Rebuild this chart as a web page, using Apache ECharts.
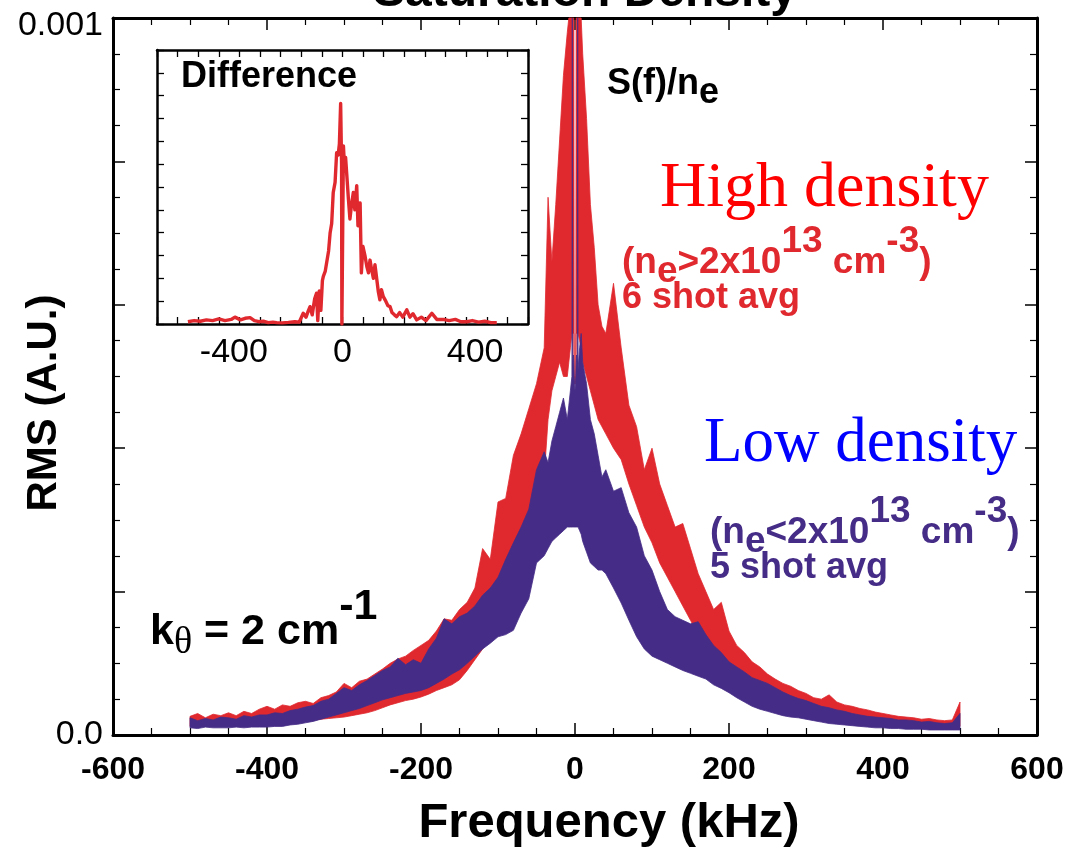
<!DOCTYPE html>
<html><head><meta charset="utf-8">
<script src="https://cdn.jsdelivr.net/npm/echarts@6/dist/echarts.min.js"></script>
<style>html,body{margin:0;padding:0;background:#fff}#c{width:1072px;height:848px}</style>
</head><body><div id="c"></div>
<script>
// ---------- DATA (RMS in units of 1e-4 A.U., frequency in kHz) ----------
const freqKHz = [
-500,-490,-480,-470,-460,-450,-440,-430,-420,-410,
-400,-390,-380,-370,-360,-350,-340,-330,-320,-310,
-300,-290,-280,-270,-260,-250,-240,-230,-220,-210,
-200,-190,-180,-170,-160,-150,-140,-130,-120,-110,
-100,-90,-80,-70,-60,-50,-40,
-35,-30,-25,-20,-15,-10,-8,-6,-4,-3.5,
-3,-2,-1.5,-1,0,1,1.5,2,3,3.5,
4,6,8,10,15,20,25,30,35,
40,50,60,70,80,90,100,110,120,130,
140,150,160,170,180,190,200,210,220,230,
240,250,260,270,280,290,300,310,320,330,
340,350,360,370,380,390,400,410,420,430,
440,450,460,470,480,490,500
];
// High density (6 shot avg): upper / lower envelope of the noisy spectrum
const highUpper = [
0.26,0.30,0.24,0.29,0.27,0.31,0.27,0.33,0.30,0.36,
0.40,0.36,0.42,0.40,0.45,0.47,0.44,0.52,0.55,0.60,
0.72,0.66,0.75,0.78,0.85,0.92,1.00,1.06,1.10,1.18,
1.25,1.32,1.45,1.62,1.60,1.75,1.85,2.05,2.60,2.45,
3.25,3.30,3.90,4.20,4.55,4.90,5.40,
7.50,6.60,7.40,8.30,9.20,9.80,10.3,10.8,11,11,
11,11,11,5.0,5.0,5.0,11,11,11,11,
11,10.5,10.0,9.5,8.6,7.4,6.8,6.0,5.7,
5.6,6.3,5.4,4.6,4.3,3.7,4.0,3.5,3.2,2.9,
2.95,2.6,2.25,2.0,1.75,1.85,1.45,1.25,1.15,1.02,
0.95,0.85,0.78,0.72,0.68,0.62,0.58,0.52,0.50,0.56,
0.46,0.42,0.40,0.37,0.35,0.32,0.30,0.28,0.26,0.25,
0.24,0.22,0.23,0.21,0.20,0.21,0.46
];
const highLower = [
0.12,0.13,0.12,0.14,0.13,0.14,0.15,0.15,0.16,0.16,
0.16,0.17,0.17,0.18,0.19,0.20,0.21,0.22,0.23,0.24,
0.25,0.27,0.29,0.31,0.34,0.38,0.42,0.45,0.48,0.50,
0.53,0.57,0.62,0.66,0.70,0.77,0.90,1.05,1.20,1.35,
1.50,1.75,2.00,2.30,2.60,3.00,3.60,
4.40,4.80,5.00,5.20,5.00,5.00,5.20,5.40,5.60,5.60,
5.60,5.60,5.60,4.90,4.90,4.90,5.60,5.60,5.60,5.60,
5.60,5.50,5.40,5.20,5.00,4.80,4.60,4.40,4.30,
4.20,4.00,3.84,3.50,3.20,2.90,2.68,2.40,2.20,2.00,
1.80,1.60,1.40,1.30,1.10,1.00,0.90,0.80,0.70,0.62,
0.55,0.45,0.39,0.36,0.34,0.32,0.30,0.28,0.26,0.25,
0.23,0.22,0.21,0.20,0.18,0.17,0.16,0.15,0.14,0.14,
0.13,0.13,0.12,0.12,0.12,0.12,0.12
];
// Low density (5 shot avg)
const lowUpper = [
0.24,0.20,0.23,0.21,0.25,0.24,0.22,0.27,0.25,0.28,
0.28,0.31,0.30,0.34,0.36,0.39,0.41,0.47,0.50,0.58,
0.66,0.62,0.70,0.76,0.83,0.90,0.95,1.07,0.98,1.05,
1.00,1.20,1.35,1.62,1.55,1.65,1.70,1.80,1.95,2.05,
2.20,2.45,2.68,2.90,3.15,3.70,3.95,
3.80,4.10,4.30,4.50,4.70,4.40,4.60,4.80,5.00,11,
5.20,5.30,5.20,5.00,4.80,5.00,5.20,5.30,5.20,11,
5.10,5.40,5.60,5.20,4.90,4.40,4.20,3.90,3.60,
3.70,3.40,3.45,3.10,2.90,2.50,2.30,2.00,1.75,1.65,
1.60,1.55,1.58,1.40,1.25,1.15,1.02,0.95,0.88,0.80,
0.76,0.72,0.66,0.60,0.55,0.51,0.48,0.44,0.40,0.38,
0.35,0.33,0.30,0.28,0.26,0.25,0.24,0.23,0.21,0.21,
0.20,0.18,0.19,0.17,0.16,0.17,0.30
];
const lowLower = [
0.10,0.09,0.11,0.10,0.10,0.10,0.11,0.10,0.11,0.11,
0.11,0.12,0.12,0.14,0.15,0.17,0.19,0.22,0.25,0.28,
0.31,0.34,0.37,0.41,0.45,0.49,0.52,0.55,0.58,0.60,
0.62,0.66,0.72,0.78,0.85,0.91,1.00,1.10,1.20,1.28,
1.37,1.40,1.46,1.70,1.90,2.40,2.50,
2.60,2.70,2.75,2.80,2.85,2.90,2.90,2.90,2.90,2.90,
2.90,2.90,2.90,2.90,2.90,2.90,2.90,2.90,2.90,2.90,
2.90,2.85,2.80,2.70,2.55,2.40,2.35,2.30,2.30,
2.25,2.05,1.84,1.60,1.37,1.20,1.10,1.05,1.00,0.95,
0.90,0.86,0.82,0.78,0.70,0.65,0.59,0.52,0.46,0.40,
0.36,0.33,0.30,0.27,0.25,0.24,0.22,0.20,0.18,0.16,
0.15,0.14,0.13,0.12,0.11,0.10,0.10,0.09,0.09,0.08,
0.08,0.08,0.07,0.07,0.07,0.07,0.07
];
// Inset: difference (arbitrary units, 0..12)
const diffFreqKHz = [
-500,-480,-460,-440,-420,-400,-380,-360,-348,-330,
-315,-299,-285,-270,-256,-240,-225,-213,-195,-175,
-154,-140,-127,-118,-110,-105,-98,-90,-84,-80,
-75,-70,-65,-62,-56,-51,-45,-40,-35,-30,
-24,-19,-14,-10,-6,-3,-2,2,3,6,
10,14,19,24,29,35,40,46,50,54,
57,61,66,73,79,84,89,94,100,105,
111,116,121,126,132,140,147,154,160,168,
175,185,195,208,218,228,240,255,270,289,
305,326,345,365,383,402,420,440,460,480,
499
];
const diffValues = [
0.10,0.15,0.12,0.18,0.15,0.22,0.15,0.20,0.30,0.18,
0.25,0.28,0.15,0.10,0.12,0.06,0.08,0.06,0.05,0.07,
0.10,0.08,0.47,0.30,0.60,0.76,0.40,1.10,1.35,0.15,
1.45,0.60,1.90,2.09,2.30,2.24,3.20,4.00,4.40,5.76,
6.20,7.50,7.40,7.90,9.66,7.00,0.00,0.00,7.80,7.00,
7.30,6.50,5.50,4.60,5.20,5.76,5.00,6.06,4.30,5.00,
5.30,2.24,3.40,2.97,2.50,2.24,2.80,2.40,2.00,2.60,
2.53,1.40,1.06,1.50,1.20,1.00,0.80,0.76,0.50,0.40,
0.32,0.50,0.30,0.62,0.30,0.45,0.18,0.30,0.15,0.47,
0.20,0.20,0.15,0.20,0.10,0.10,0.15,0.08,0.12,0.06,
0.06
];
const xTickLabels = {'-600':'-600','-400':'-400','-200':'-200','0':'0','200':'200','400':'400','600':'600'};
const yTickLabels = {'0':'0.0','10':'0.001'};
const insetXTickLabels = {'-400':'-400','0':'0','400':'400'};

// ---------- CHART ----------
const RED = '#e0282f', PURPLE = '#452c86';
const FONT = '"Liberation Sans", Arial, Helvetica, sans-serif';
const SERIF = '"Liberation Serif", "Times New Roman", serif';
const pairs = (xs, ys) => xs.map((x, i) => [x, ys[i]]);

// band polygon (upper envelope forward, lower envelope backward), mapped through the axes
function bandRender(upper, lower, color) {
  return function (params, api) {
    const pts = [];
    for (let i = 0; i < freqKHz.length; i++) pts.push(api.coord([freqKHz[i], upper[i]]));
    for (let i = freqKHz.length - 1; i >= 0; i--) pts.push(api.coord([freqKHz[i], lower[i]]));
    const cs = params.coordSys;
    const clipped = echarts.graphic.clipPointsByRect(pts, { x: cs.x, y: cs.y, width: cs.width, height: cs.height });
    return { type: 'polygon', shape: { points: clipped },
      style: { fill: color, stroke: color, lineWidth: 0.8 } };
  };
}

const mctx = document.createElement('canvas').getContext('2d');
function richLine(x0, baseline, parts, color) {
  let x = x0; const els = [];
  for (const p of parts) {
    const [t, font, dy, size] = p;
    mctx.font = font;
    const w = mctx.measureText(t).width;
    els.push({ type: 'text', x: x, y: baseline + dy - 0.36 * size, z: 100,
      style: { text: t, font: font, fill: color, align: 'left', verticalAlign: 'middle' } });
    x += w;
  }
  return els;
}
const B = s => 'bold ' + s + 'px ' + FONT;

const chart = echarts.init(document.getElementById('c'));

const mainTick = { show: true, inside: true, length: 12, lineStyle: { color: '#000', width: 1.5 } };
const mainMinor = { show: true, splitNumber: 4, length: 7, lineStyle: { color: '#000', width: 1.2 } };
const mainLine = { show: true, onZero: false, lineStyle: { color: '#000', width: 3 } };
const insTick = { show: true, inside: true, length: 7, lineStyle: { color: '#000', width: 1.3 } };
const insLine = { show: true, onZero: false, lineStyle: { color: '#000', width: 2.5 } };

const graphics = [];
graphics.push({ type: 'text', x: 585, y: 10 - 0.36 * 48, style: { text: 'Saturation Density', font: B(48), fill: '#000', align: 'center', verticalAlign: 'middle' } });
graphics.push({ type: 'text', x: 609, y: 841 - 0.36 * 49, style: { text: 'Frequency (kHz)', font: B(49), fill: '#000', align: 'center', verticalAlign: 'middle' } });
graphics.push({ type: 'text', x: 44, y: 403, rotation: Math.PI / 2, style: { text: 'RMS (A.U.)', font: B(42), fill: '#000', align: 'center', verticalAlign: 'middle' } });
graphics.push(...richLine(181, 90, [['Difference', B(36), 0, 36]], '#000'));
graphics.push(...richLine(607, 97, [['S(f)/n', B(36), 0, 36], ['e', B(36), 9, 36]], '#000'));
graphics.push(...richLine(660, 212, [['High density', '64px ' + SERIF, 0, 64]], '#ff0000'));
graphics.push(...richLine(622, 276, [['(n', B(37), 0, 37], ['e', B(37), 9, 37], ['>2x10', B(37), 0, 37], ['13', B(37), -21, 37], [' cm', B(37), 0, 37], ['-3', B(37), -21, 37], [')', B(37), 0, 37]], RED));
graphics.push(...richLine(622, 311, [['6 shot avg', B(36), 0, 36]], RED));
graphics.push(...richLine(704, 467, [['Low density', '63px ' + SERIF, 0, 63]], '#0000ff'));
graphics.push(...richLine(710, 546, [['(n', B(37), 0, 37], ['e', B(37), 9, 37], ['<2x10', B(37), 0, 37], ['13', B(37), -21, 37], [' cm', B(37), 0, 37], ['-3', B(37), -21, 37], [')', B(37), 0, 37]], PURPLE));
graphics.push(...richLine(710, 581, [['5 shot avg', B(36), 0, 36]], PURPLE));
graphics.push(...richLine(150, 648, [['k', B(43), 0, 43], ['\u03b8', '38px ' + SERIF, 9, 38], [' = 2 cm', B(43), 0, 43], ['-1', B(43), -25, 43]], '#000'));

const insetLabelRich = {
  a: { fontFamily: FONT, fontSize: 34, color: '#000', padding: [0, 0, 0, 30] },
  b: { fontFamily: FONT, fontSize: 34, color: '#000', padding: [0, 0, 0, 18] }
};

const option = {
  backgroundColor: '#fff',
  animation: false,
  grid: [
    { left: 113, top: 18, width: 924, height: 717, containLabel: false },
    { left: 157, top: 50, width: 371, height: 274, containLabel: false, show: true, backgroundColor: '#fff', borderWidth: 0 }
  ],
  xAxis: [
    { gridIndex: 0, type: 'value', position: 'bottom', min: -600, max: 600, interval: 200,
      axisLine: mainLine, axisTick: mainTick, minorTick: mainMinor, splitLine: { show: false },
      axisLabel: { fontFamily: FONT, fontWeight: 'bold', fontSize: 32, color: '#000', margin: 19,
        formatter: v => xTickLabels[String(v)] || '' } },
    { gridIndex: 0, type: 'value', position: 'top', min: -600, max: 600, interval: 200,
      axisLine: mainLine, axisTick: mainTick, minorTick: mainMinor, splitLine: { show: false }, axisLabel: { show: false } },
    { gridIndex: 1, type: 'value', position: 'bottom', min: -600, max: 600, interval: 200,
      axisLine: insLine, axisTick: insTick, minorTick: { show: true, splitNumber: 3, length: 7, lineStyle: { color: '#000', width: 1.3 } },
      splitLine: { show: false },
      axisLabel: { fontFamily: FONT, fontSize: 34, color: '#000', margin: 12, rich: insetLabelRich,
        formatter: v => { const t = insetXTickLabels[String(v)]; if (!t) return ''; return v < 0 ? '{a|' + t + '}' : (v > 0 ? '{b|' + t + '}' : t); } } },
    { gridIndex: 1, type: 'value', position: 'top', min: -600, max: 600, interval: 200,
      axisLine: insLine, axisTick: insTick, minorTick: { show: true, splitNumber: 3, length: 7, lineStyle: { color: '#000', width: 1.3 } },
      splitLine: { show: false }, axisLabel: { show: false } }
  ],
  yAxis: [
    { gridIndex: 0, type: 'value', position: 'left', min: 0, max: 10, interval: 2,
      axisLine: mainLine, axisTick: mainTick, minorTick: mainMinor, splitLine: { show: false },
      axisLabel: { fontFamily: FONT, fontSize: 34, color: '#000', margin: 10,
        formatter: v => { const t = yTickLabels[String(v)]; return t ? (v === 10 ? '{top|' + t + '}' : t) : ''; },
        rich: { top: { fontFamily: FONT, fontSize: 34, color: '#000', padding: [16, 0, 0, 0] } } } },
    { gridIndex: 0, type: 'value', position: 'right', min: 0, max: 10, interval: 2,
      axisLine: mainLine, axisTick: mainTick, minorTick: mainMinor, splitLine: { show: false }, axisLabel: { show: false } },
    { gridIndex: 1, type: 'value', position: 'left', min: 0, max: 12, interval: 1,
      axisLine: insLine, axisTick: insTick, splitLine: { show: false }, axisLabel: { show: false } },
    { gridIndex: 1, type: 'value', position: 'right', min: 0, max: 12, interval: 1,
      axisLine: insLine, axisTick: insTick, splitLine: { show: false }, axisLabel: { show: false } }
  ],
  series: [
    { type: 'custom', name: 'High density', xAxisIndex: 0, yAxisIndex: 0, data: [[0, 0]],
      encode: { x: 0, y: 1 }, renderItem: bandRender(highUpper, highLower, RED), silent: true, z: 2 },
    { type: 'custom', name: 'Low density', xAxisIndex: 0, yAxisIndex: 0, data: [[0, 0]],
      encode: { x: 0, y: 1 }, renderItem: bandRender(lowUpper, lowLower, PURPLE), silent: true, z: 3 },
    { type: 'line', name: 'Difference', xAxisIndex: 2, yAxisIndex: 2, data: pairs(diffFreqKHz, diffValues),
      symbol: 'none', lineStyle: { color: RED, width: 3.4, join: 'round' }, z: 4 }
  ],
  graphic: graphics
};
chart.setOption(option);
</script></body></html>
